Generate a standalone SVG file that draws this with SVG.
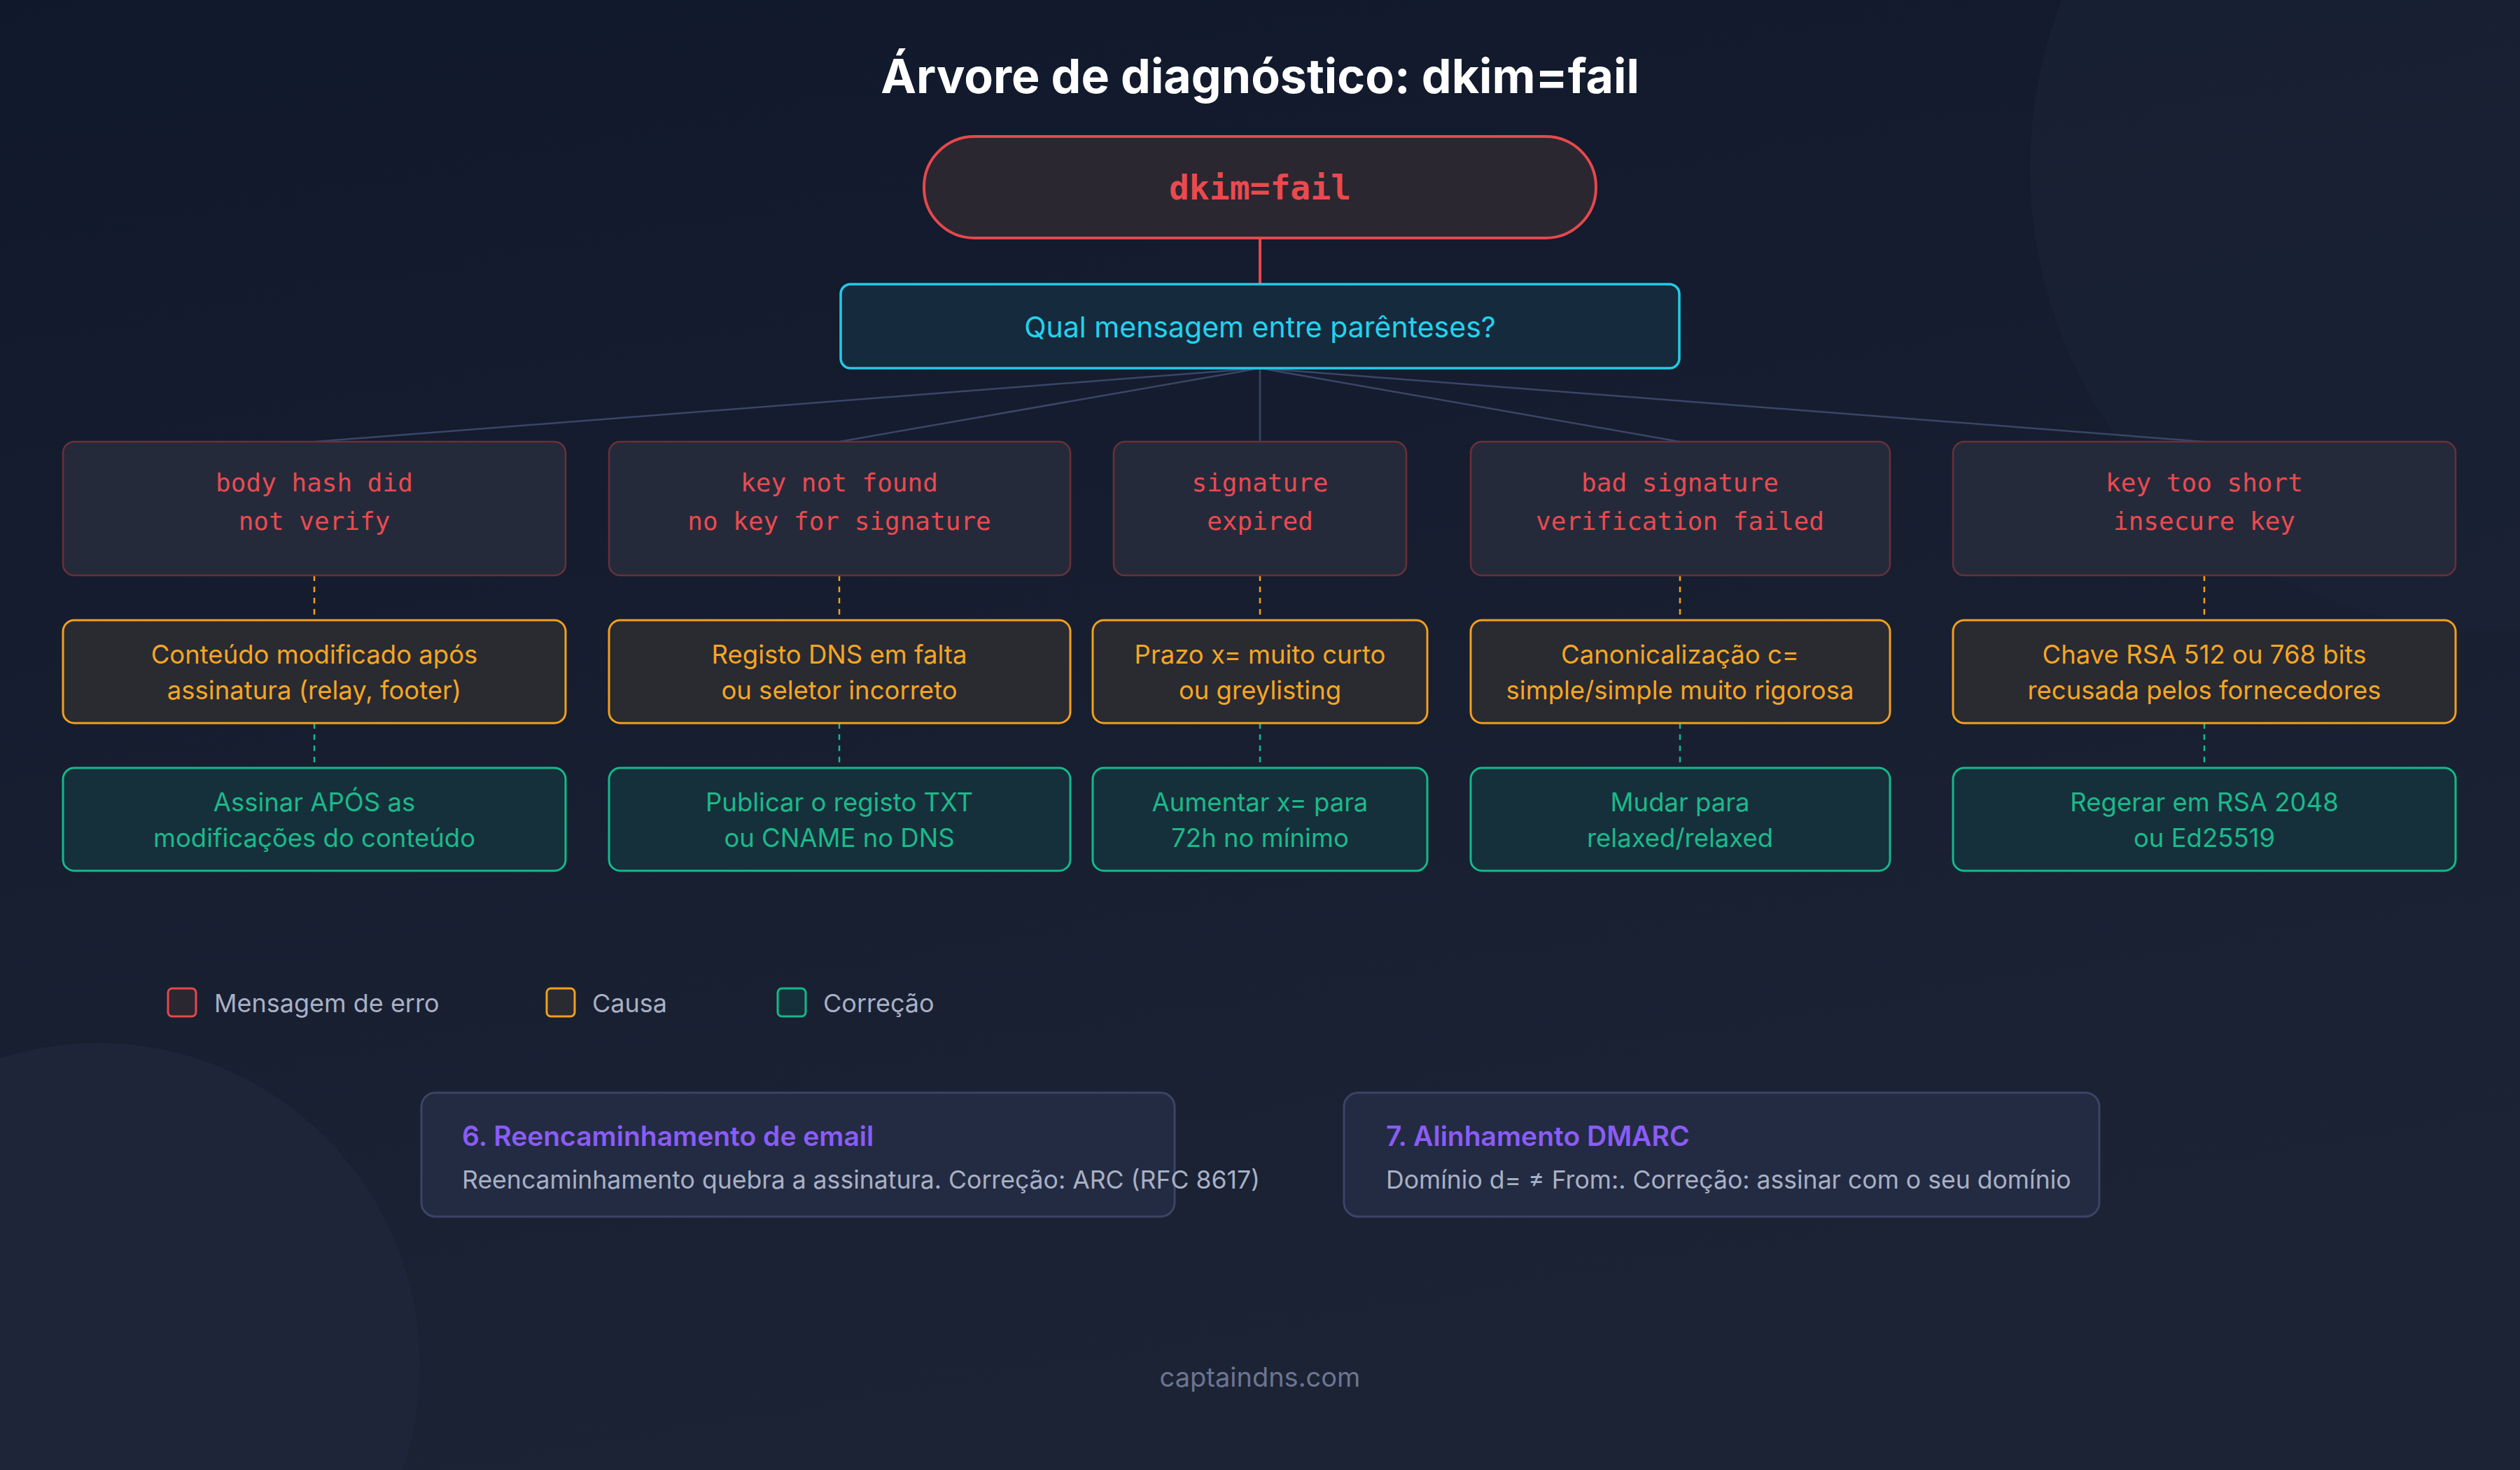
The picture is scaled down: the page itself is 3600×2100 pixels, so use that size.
<svg xmlns="http://www.w3.org/2000/svg" width="3600" height="2100" viewBox="0 0 3600 2100">
<defs>
<linearGradient id="bg" x1="0" y1="0" x2="0.3" y2="1"><stop offset="0" stop-color="#10182b"/><stop offset="1" stop-color="#1c2334"/></linearGradient>
<style>
.t{font-family:Inter,"Noto Sans",sans-serif}
.m{font-family:"DejaVu Sans Mono","Liberation Mono",monospace}
.err rect{fill:#252a3b;stroke:#6a3038;stroke-width:2.5}
.err text{fill:#ea4a4f;font-size:36px;text-anchor:middle}
.cause rect{fill:#2a2a31;stroke:#f2a01c;stroke-width:3}
.cause text{fill:#f5a623;font-size:36.5px;text-anchor:middle}
.fix rect{fill:#15303a;stroke:#14b98a;stroke-width:3}
.fix text{fill:#1cb98b;font-size:36.5px;text-anchor:middle}
.info rect{fill:#232b42;stroke:#3b4466;stroke-width:3}
.dash{stroke-dasharray:8 8;stroke-width:2.5;fill:none}
</style>
</defs>
<rect width="3600" height="2100" fill="url(#bg)"/>
<circle cx="3560" cy="240" r="660" fill="#1a2234" opacity="0.7"/>
<circle cx="140" cy="1950" r="460" fill="#1e2538"/>
<text class="t" x="1800" y="133" text-anchor="middle" font-size="68" font-weight="700" fill="#ffffff">Árvore de diagnóstico: dkim=fail</text>

<g id="connectors">
<line x1="1800" y1="340" x2="1800" y2="406" stroke="#e5484d" stroke-width="4"/>
<g stroke="#3a4668" stroke-width="2.5">
<line x1="1800" y1="526" x2="449" y2="631"/>
<line x1="1800" y1="526" x2="1199" y2="631"/>
<line x1="1800" y1="526" x2="1800" y2="631"/>
<line x1="1800" y1="526" x2="2400" y2="631"/>
<line x1="1800" y1="526" x2="3149" y2="631"/>
</g>
<g class="dash" stroke="#f2a01c">
<line x1="449" y1="822" x2="449" y2="886"/><line x1="1199" y1="822" x2="1199" y2="886"/><line x1="1800" y1="822" x2="1800" y2="886"/><line x1="2400" y1="822" x2="2400" y2="886"/><line x1="3149" y1="822" x2="3149" y2="886"/>
</g>
<g class="dash" stroke="#14b98a">
<line x1="449" y1="1033" x2="449" y2="1097"/><line x1="1199" y1="1033" x2="1199" y2="1097"/><line x1="1800" y1="1033" x2="1800" y2="1097"/><line x1="2400" y1="1033" x2="2400" y2="1097"/><line x1="3149" y1="1033" x2="3149" y2="1097"/>
</g>
</g>

<g id="root"><rect x="1320" y="195" width="960" height="145" rx="72" fill="#2b2730" stroke="#e5484d" stroke-width="4"/><text class="m" x="1800" y="285" text-anchor="middle" font-size="48" font-weight="700" fill="#ea4a4f">dkim=fail</text></g>
<g id="question"><rect x="1201" y="406" width="1198" height="120" rx="14" fill="#162a3d" stroke="#22cbe6" stroke-width="3.5"/><text class="t" x="1800" y="482" text-anchor="middle" font-size="41" fill="#22d3ee">Qual mensagem entre parênteses?</text></g>

<g id="err1" class="err"><rect x="90" y="631" width="718" height="191" rx="16"/><text class="m" x="449" y="702">body hash did</text><text class="m" x="449" y="757">not verify</text></g>
<g id="err2" class="err"><rect x="870" y="631" width="659" height="191" rx="16"/><text class="m" x="1199" y="702">key not found</text><text class="m" x="1199" y="757">no key for signature</text></g>
<g id="err3" class="err"><rect x="1591" y="631" width="418" height="191" rx="16"/><text class="m" x="1800" y="702">signature</text><text class="m" x="1800" y="757">expired</text></g>
<g id="err4" class="err"><rect x="2101" y="631" width="599" height="191" rx="16"/><text class="m" x="2400" y="702">bad signature</text><text class="m" x="2400" y="757">verification failed</text></g>
<g id="err5" class="err"><rect x="2790" y="631" width="718" height="191" rx="16"/><text class="m" x="3149" y="702">key too short</text><text class="m" x="3149" y="757">insecure key</text></g>

<g id="cause1" class="cause"><rect x="90" y="886" width="718" height="147" rx="16"/><text class="t" x="449" y="948">Conteúdo modificado após</text><text class="t" x="449" y="999">assinatura (relay, footer)</text></g>
<g id="cause2" class="cause"><rect x="870" y="886" width="659" height="147" rx="16"/><text class="t" x="1199" y="948">Registo DNS em falta</text><text class="t" x="1199" y="999">ou seletor incorreto</text></g>
<g id="cause3" class="cause"><rect x="1561" y="886" width="478" height="147" rx="16"/><text class="t" x="1800" y="948">Prazo x= muito curto</text><text class="t" x="1800" y="999">ou greylisting</text></g>
<g id="cause4" class="cause"><rect x="2101" y="886" width="599" height="147" rx="16"/><text class="t" x="2400" y="948">Canonicalização c=</text><text class="t" x="2400" y="999">simple/simple muito rigorosa</text></g>
<g id="cause5" class="cause"><rect x="2790" y="886" width="718" height="147" rx="16"/><text class="t" x="3149" y="948">Chave RSA 512 ou 768 bits</text><text class="t" x="3149" y="999">recusada pelos fornecedores</text></g>

<g id="fix1" class="fix"><rect x="90" y="1097" width="718" height="147" rx="16"/><text class="t" x="449" y="1159">Assinar APÓS as</text><text class="t" x="449" y="1210">modificações do conteúdo</text></g>
<g id="fix2" class="fix"><rect x="870" y="1097" width="659" height="147" rx="16"/><text class="t" x="1199" y="1159">Publicar o registo TXT</text><text class="t" x="1199" y="1210">ou CNAME no DNS</text></g>
<g id="fix3" class="fix"><rect x="1561" y="1097" width="478" height="147" rx="16"/><text class="t" x="1800" y="1159">Aumentar x= para</text><text class="t" x="1800" y="1210">72h no mínimo</text></g>
<g id="fix4" class="fix"><rect x="2101" y="1097" width="599" height="147" rx="16"/><text class="t" x="2400" y="1159">Mudar para</text><text class="t" x="2400" y="1210">relaxed/relaxed</text></g>
<g id="fix5" class="fix"><rect x="2790" y="1097" width="718" height="147" rx="16"/><text class="t" x="3149" y="1159">Regerar em RSA 2048</text><text class="t" x="3149" y="1210">ou Ed25519</text></g>

<g id="legend" class="t" font-size="36" fill="#a8b0c4">
<rect x="240" y="1412" width="40" height="40" rx="6" fill="#2b2730" stroke="#e5484d" stroke-width="3"/><text x="306" y="1446">Mensagem de erro</text>
<rect x="781" y="1412" width="40" height="40" rx="6" fill="#2a2a31" stroke="#f2a01c" stroke-width="3"/><text x="846" y="1446">Causa</text>
<rect x="1111" y="1412" width="40" height="40" rx="6" fill="#15303a" stroke="#14b98a" stroke-width="3"/><text x="1176" y="1446">Correção</text>
</g>

<g id="info6" class="info"><rect x="602" y="1561" width="1076" height="177" rx="20"/><text class="t" x="660" y="1637" font-size="39" font-weight="600" fill="#8b5cf6">6. Reencaminhamento de email</text><text class="t" x="660" y="1698" font-size="35.6" fill="#a8b0c4">Reencaminhamento quebra a assinatura. Correção: ARC (RFC 8617)</text></g>
<g id="info7" class="info"><rect x="1920" y="1561" width="1079" height="177" rx="20"/><text class="t" x="1980" y="1637" font-size="39" font-weight="600" fill="#8b5cf6">7. Alinhamento DMARC</text><text class="t" x="1980" y="1698" font-size="35.6" fill="#a8b0c4">Domínio d= ≠ From:. Correção: assinar com o seu domínio</text></g>

<text class="t" x="1800" y="1981" text-anchor="middle" font-size="38" fill="#6b7592">captaindns.com</text>
</svg>
